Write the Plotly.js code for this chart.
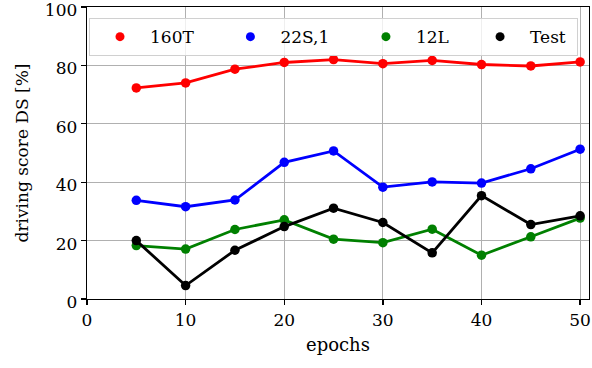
<!DOCTYPE html>
<html>
<head>
<meta charset="utf-8">
<script src="https://cdn.plot.ly/plotly-3.0.1.min.js"></script>
<style>html,body{margin:0;padding:0;background:#fff;}#chart{width:592px;height:368px;}</style>
</head>
<body>
<div id="chart"></div>
<script>
const epochs = [5, 10, 15, 20, 25, 30, 35, 40, 45, 50];
const s160T = [72.3, 74.0, 78.7, 81.0, 82.0, 80.6, 81.7, 80.3, 79.8, 81.2];
const s22S1 = [33.8, 31.6, 33.9, 46.8, 50.7, 38.3, 40.1, 39.7, 44.6, 51.3];
const s12L = [18.3, 17.1, 23.8, 27.1, 20.5, 19.3, 23.9, 15.0, 21.3, 27.7];
const sTest = [20.0, 4.6, 16.7, 24.8, 31.1, 26.2, 15.8, 35.4, 25.5, 28.5];
const names = ["160T", "22S,1", "12L", "Test"];
const colors = ["red", "blue", "green", "black"];
const series = [s160T, s22S1, s12L, sTest];

const FONT = "DejaVu Serif, serif";
const traces = [];
series.forEach((s, i) => {
  traces.push({
    x: epochs, y: s, mode: "lines+markers", showlegend: false,
    line: {color: colors[i], width: 2.8}, marker: {color: colors[i], size: 9.5}
  });
});
const pad = ["\u00a0\u00a0\u00a0\u00a0", "\u00a0\u00a0\u00a0\u00a0", "\u00a0\u00a0\u00a0", "\u00a0"];
series.forEach((s, i) => {
  traces.push({
    x: [null], y: [null], mode: "markers", name: names[i] + pad[i], showlegend: true,
    marker: {color: colors[i], size: 9}
  });
});

const layout = {
  width: 592, height: 368,
  margin: {l: 87, r: 3, t: 7, b: 69},
  paper_bgcolor: "#fff", plot_bgcolor: "#fff",
  font: {family: FONT, size: 17, color: "#000"},
  xaxis: {
    range: [0, 50.9], tickvals: [0, 10, 20, 30, 40, 50],
    showgrid: true, gridcolor: "#b0b0b0", gridwidth: 1,
    showline: true, linecolor: "#000", linewidth: 1.3, mirror: true,
    ticks: "outside", ticklen: 5, tickcolor: "#000", tickwidth: 1.3,
    zeroline: false, tickfont: {family: FONT, size: 17}, ticklabeloverflow: "allow",
    title: {text: "epochs", font: {family: FONT, size: 18}, standoff: 9}
  },
  yaxis: {
    range: [0, 100], tickvals: [0, 20, 40, 60, 80, 100],
    showgrid: true, gridcolor: "#b0b0b0", gridwidth: 1,
    showline: true, linecolor: "#000", linewidth: 1.3, mirror: true,
    ticks: "outside", ticklen: 5, tickcolor: "#000", tickwidth: 1.3,
    zeroline: false, tickfont: {family: FONT, size: 17}, ticklabeloverflow: "allow",
    ticklabelshift: 3,
    title: {text: "driving score DS [%]", font: {family: FONT, size: 17}, standoff: 12}
  },
  legend: {
    orientation: "h", x: 0.004, y: 0.962, xanchor: "left", yanchor: "top",
    bgcolor: "rgba(255,255,255,0.8)", bordercolor: "#d0d0d0", borderwidth: 1,
    itemwidth: 50, font: {family: FONT, size: 17}
  },
  showlegend: true
};
Plotly.newPlot("chart", traces, layout, {displayModeBar: false, staticPlot: true});
</script>
</body>
</html>
